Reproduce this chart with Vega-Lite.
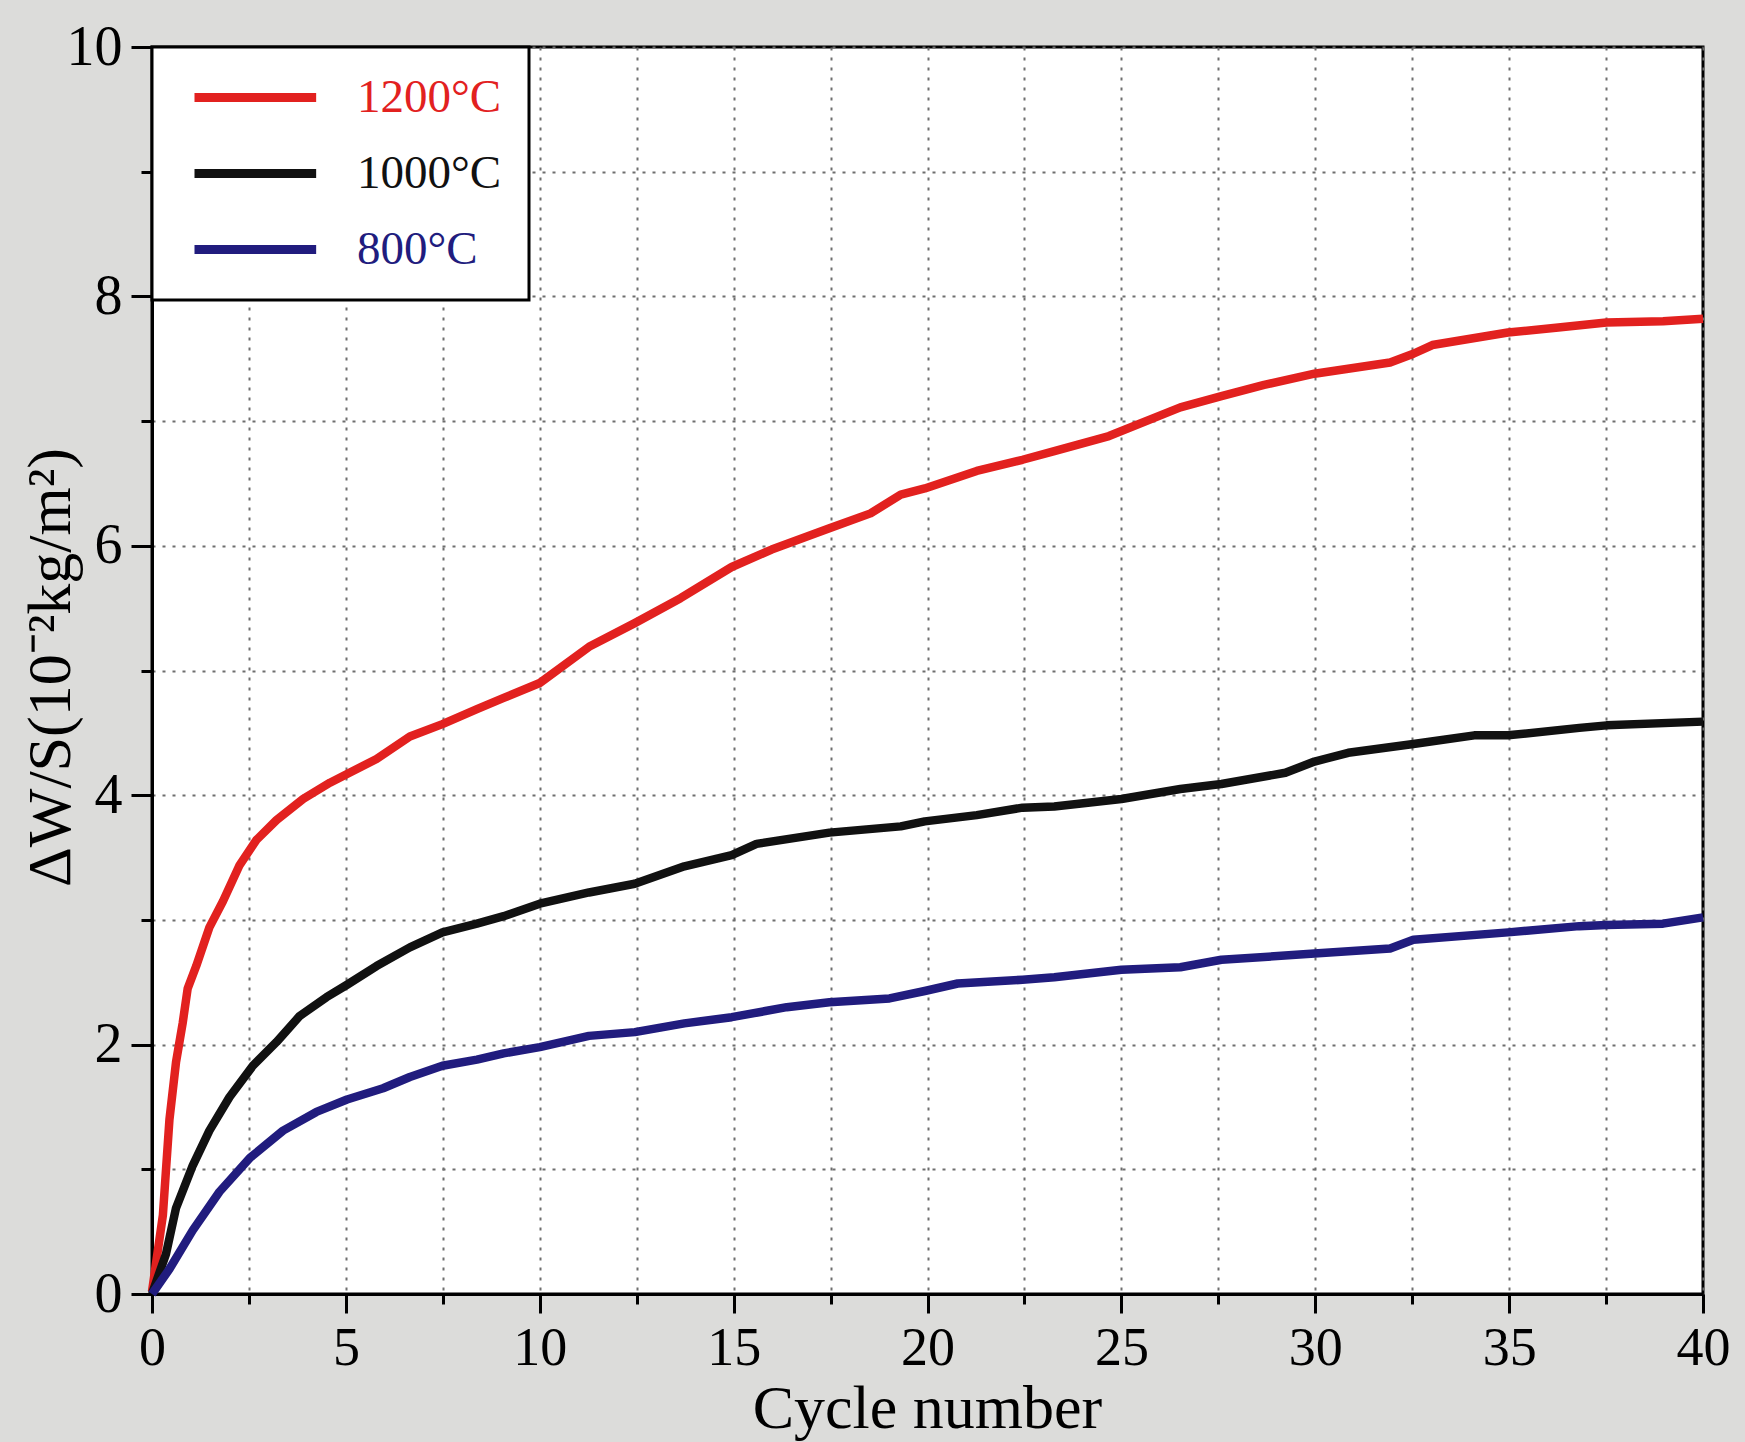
{
  "$schema": "https://vega.github.io/schema/vega-lite/v6.json",
  "width": 1551,
  "height": 1247,
  "autosize": {"type": "none"},
  "padding": {"left": 152, "top": 47, "right": 42, "bottom": 148},
  "background": "#dcdcda",
  "config": {
    "view": {"fill": "white", "stroke": "black", "strokeWidth": 3},
    "font": "Liberation Serif"
  },
  "data": {
    "values": [
      {"temp": "1200°C", "cycle": 0, "dws": 0.02},
      {"temp": "1200°C", "cycle": 0.28, "dws": 0.63},
      {"temp": "1200°C", "cycle": 0.45, "dws": 1.4},
      {"temp": "1200°C", "cycle": 0.62, "dws": 1.86},
      {"temp": "1200°C", "cycle": 0.79, "dws": 2.17},
      {"temp": "1200°C", "cycle": 0.92, "dws": 2.45},
      {"temp": "1200°C", "cycle": 1.14, "dws": 2.63},
      {"temp": "1200°C", "cycle": 1.48, "dws": 2.94},
      {"temp": "1200°C", "cycle": 1.83, "dws": 3.15},
      {"temp": "1200°C", "cycle": 2.26, "dws": 3.44},
      {"temp": "1200°C", "cycle": 2.69, "dws": 3.64},
      {"temp": "1200°C", "cycle": 3.21, "dws": 3.8},
      {"temp": "1200°C", "cycle": 3.9, "dws": 3.97},
      {"temp": "1200°C", "cycle": 4.59, "dws": 4.1},
      {"temp": "1200°C", "cycle": 5.03, "dws": 4.17},
      {"temp": "1200°C", "cycle": 5.79, "dws": 4.29},
      {"temp": "1200°C", "cycle": 6.65, "dws": 4.47},
      {"temp": "1200°C", "cycle": 7.49, "dws": 4.57},
      {"temp": "1200°C", "cycle": 8.38, "dws": 4.69},
      {"temp": "1200°C", "cycle": 9.07, "dws": 4.78},
      {"temp": "1200°C", "cycle": 10, "dws": 4.9},
      {"temp": "1200°C", "cycle": 11.27, "dws": 5.19},
      {"temp": "1200°C", "cycle": 12.45, "dws": 5.38},
      {"temp": "1200°C", "cycle": 13.63, "dws": 5.58},
      {"temp": "1200°C", "cycle": 14.95, "dws": 5.83},
      {"temp": "1200°C", "cycle": 15.98, "dws": 5.97},
      {"temp": "1200°C", "cycle": 17.47, "dws": 6.14},
      {"temp": "1200°C", "cycle": 18.53, "dws": 6.26},
      {"temp": "1200°C", "cycle": 19.31, "dws": 6.41},
      {"temp": "1200°C", "cycle": 19.93, "dws": 6.46},
      {"temp": "1200°C", "cycle": 21.27, "dws": 6.6},
      {"temp": "1200°C", "cycle": 22.45, "dws": 6.69},
      {"temp": "1200°C", "cycle": 23.27, "dws": 6.76},
      {"temp": "1200°C", "cycle": 24.68, "dws": 6.88},
      {"temp": "1200°C", "cycle": 26.52, "dws": 7.11},
      {"temp": "1200°C", "cycle": 27.58, "dws": 7.2},
      {"temp": "1200°C", "cycle": 28.68, "dws": 7.29},
      {"temp": "1200°C", "cycle": 29.98, "dws": 7.38},
      {"temp": "1200°C", "cycle": 31.93, "dws": 7.47},
      {"temp": "1200°C", "cycle": 32.53, "dws": 7.54},
      {"temp": "1200°C", "cycle": 33.02, "dws": 7.61},
      {"temp": "1200°C", "cycle": 34.97, "dws": 7.71},
      {"temp": "1200°C", "cycle": 36.27, "dws": 7.75},
      {"temp": "1200°C", "cycle": 37.51, "dws": 7.79},
      {"temp": "1200°C", "cycle": 38.97, "dws": 7.8},
      {"temp": "1200°C", "cycle": 40, "dws": 7.82},

      {"temp": "1000°C", "cycle": 0, "dws": 0},
      {"temp": "1000°C", "cycle": 0.36, "dws": 0.32},
      {"temp": "1000°C", "cycle": 0.62, "dws": 0.69},
      {"temp": "1000°C", "cycle": 1.05, "dws": 1.03},
      {"temp": "1000°C", "cycle": 1.48, "dws": 1.31},
      {"temp": "1000°C", "cycle": 2.0, "dws": 1.58},
      {"temp": "1000°C", "cycle": 2.6, "dws": 1.83},
      {"temp": "1000°C", "cycle": 3.21, "dws": 2.02},
      {"temp": "1000°C", "cycle": 3.81, "dws": 2.23},
      {"temp": "1000°C", "cycle": 4.5, "dws": 2.38},
      {"temp": "1000°C", "cycle": 5.03, "dws": 2.48},
      {"temp": "1000°C", "cycle": 5.79, "dws": 2.63},
      {"temp": "1000°C", "cycle": 6.65, "dws": 2.78},
      {"temp": "1000°C", "cycle": 7.49, "dws": 2.9},
      {"temp": "1000°C", "cycle": 8.38, "dws": 2.97},
      {"temp": "1000°C", "cycle": 9.07, "dws": 3.03},
      {"temp": "1000°C", "cycle": 10, "dws": 3.13},
      {"temp": "1000°C", "cycle": 11.27, "dws": 3.22},
      {"temp": "1000°C", "cycle": 12.45, "dws": 3.29},
      {"temp": "1000°C", "cycle": 13.73, "dws": 3.43},
      {"temp": "1000°C", "cycle": 14.95, "dws": 3.52},
      {"temp": "1000°C", "cycle": 15.59, "dws": 3.61},
      {"temp": "1000°C", "cycle": 17.47, "dws": 3.7},
      {"temp": "1000°C", "cycle": 19.31, "dws": 3.75},
      {"temp": "1000°C", "cycle": 19.93, "dws": 3.79},
      {"temp": "1000°C", "cycle": 21.27, "dws": 3.84},
      {"temp": "1000°C", "cycle": 22.45, "dws": 3.9},
      {"temp": "1000°C", "cycle": 23.27, "dws": 3.91},
      {"temp": "1000°C", "cycle": 25, "dws": 3.97},
      {"temp": "1000°C", "cycle": 26.52, "dws": 4.05},
      {"temp": "1000°C", "cycle": 27.58, "dws": 4.09},
      {"temp": "1000°C", "cycle": 29.23, "dws": 4.18},
      {"temp": "1000°C", "cycle": 29.98, "dws": 4.27},
      {"temp": "1000°C", "cycle": 30.85, "dws": 4.34},
      {"temp": "1000°C", "cycle": 32.53, "dws": 4.41},
      {"temp": "1000°C", "cycle": 34.1, "dws": 4.48},
      {"temp": "1000°C", "cycle": 34.97, "dws": 4.48},
      {"temp": "1000°C", "cycle": 36.81, "dws": 4.54},
      {"temp": "1000°C", "cycle": 37.51, "dws": 4.56},
      {"temp": "1000°C", "cycle": 40, "dws": 4.59},

      {"temp": "800°C", "cycle": 0, "dws": 0},
      {"temp": "800°C", "cycle": 0.45, "dws": 0.2},
      {"temp": "800°C", "cycle": 1.05, "dws": 0.51},
      {"temp": "800°C", "cycle": 1.74, "dws": 0.82},
      {"temp": "800°C", "cycle": 2.52, "dws": 1.09},
      {"temp": "800°C", "cycle": 3.38, "dws": 1.31},
      {"temp": "800°C", "cycle": 4.24, "dws": 1.46},
      {"temp": "800°C", "cycle": 5.03, "dws": 1.56},
      {"temp": "800°C", "cycle": 5.96, "dws": 1.65},
      {"temp": "800°C", "cycle": 6.65, "dws": 1.74},
      {"temp": "800°C", "cycle": 7.49, "dws": 1.83},
      {"temp": "800°C", "cycle": 8.38, "dws": 1.88},
      {"temp": "800°C", "cycle": 9.07, "dws": 1.93},
      {"temp": "800°C", "cycle": 10, "dws": 1.98},
      {"temp": "800°C", "cycle": 11.27, "dws": 2.07},
      {"temp": "800°C", "cycle": 12.45, "dws": 2.1},
      {"temp": "800°C", "cycle": 13.73, "dws": 2.17},
      {"temp": "800°C", "cycle": 14.95, "dws": 2.22},
      {"temp": "800°C", "cycle": 16.37, "dws": 2.3},
      {"temp": "800°C", "cycle": 17.47, "dws": 2.34},
      {"temp": "800°C", "cycle": 19.02, "dws": 2.37},
      {"temp": "800°C", "cycle": 19.93, "dws": 2.43},
      {"temp": "800°C", "cycle": 20.78, "dws": 2.49},
      {"temp": "800°C", "cycle": 22.45, "dws": 2.52},
      {"temp": "800°C", "cycle": 23.27, "dws": 2.54},
      {"temp": "800°C", "cycle": 25, "dws": 2.6},
      {"temp": "800°C", "cycle": 26.52, "dws": 2.62},
      {"temp": "800°C", "cycle": 27.58, "dws": 2.68},
      {"temp": "800°C", "cycle": 29.98, "dws": 2.73},
      {"temp": "800°C", "cycle": 31.93, "dws": 2.77},
      {"temp": "800°C", "cycle": 32.53, "dws": 2.84},
      {"temp": "800°C", "cycle": 34.97, "dws": 2.9},
      {"temp": "800°C", "cycle": 36.81, "dws": 2.95},
      {"temp": "800°C", "cycle": 37.51, "dws": 2.96},
      {"temp": "800°C", "cycle": 38.97, "dws": 2.97},
      {"temp": "800°C", "cycle": 40, "dws": 3.02}
    ]
  },
  "mark": {"type": "line", "strokeWidth": 8.5, "interpolate": "linear", "strokeJoin": "round"},
  "encoding": {
    "x": {
      "field": "cycle",
      "type": "quantitative",
      "scale": {"domain": [0, 40], "nice": false, "zero": false},
      "axis": {
        "values": [0, 2.5, 5, 7.5, 10, 12.5, 15, 17.5, 20, 22.5, 25, 27.5, 30, 32.5, 35, 37.5, 40],
        "labelExpr": "datum.value % 5 === 0 ? datum.label : ''",
        "labelFont": "Liberation Serif",
        "labelFontSize": 54,
        "labelColor": "black",
        "labelPadding": 8,
        "labelFlush": false,
        "labelOverlap": false,
        "tickSize": {"condition": {"test": "datum.value % 5 === 0", "value": 19}, "value": 10},
        "tickWidth": 3,
        "tickColor": "black",
        "domainColor": "black",
        "domainWidth": 3,
        "grid": true,
        "gridDash": [3, 7],
        "gridColor": "#6e6e6e",
        "gridWidth": 2,
        "title": "Cycle number",
        "titleFont": "Liberation Serif",
        "titleFontSize": 62,
        "titleFontWeight": "normal",
        "titleColor": "black",
        "titleX": 775,
        "titleY": 133,
        "titleBaseline": "alphabetic"
      }
    },
    "y": {
      "field": "dws",
      "type": "quantitative",
      "scale": {"domain": [0, 10], "nice": false, "zero": true},
      "axis": {
        "values": [0, 1, 2, 3, 4, 5, 6, 7, 8, 9, 10],
        "labelExpr": "datum.value % 2 === 0 ? datum.label : ''",
        "labelFont": "Liberation Serif",
        "labelFontSize": 56,
        "labelColor": "black",
        "labelPadding": 9,
        "labelFlush": false,
        "labelOverlap": false,
        "tickSize": {"condition": {"test": "datum.value % 2 === 0", "value": 21}, "value": 11},
        "tickWidth": 3,
        "tickColor": "black",
        "domainColor": "black",
        "domainWidth": 3,
        "grid": true,
        "gridDash": [3, 7],
        "gridColor": "#6e6e6e",
        "gridWidth": 2,
        "title": "ΔW/S(10⁻²kg/m²)",
        "titleFont": "Liberation Serif",
        "titleFontSize": 62,
        "titleFontWeight": "normal",
        "titleColor": "black",
        "titleAngle": -90,
        "titleX": -102,
        "titleY": 620,
        "titleAlign": "center",
        "titleBaseline": "middle"
      }
    },
    "color": {
      "field": "temp",
      "type": "nominal",
      "scale": {"domain": ["1200°C", "1000°C", "800°C"], "range": ["#e2211f", "#111111", "#211c7e"]},
      "legend": {
        "title": null,
        "orient": "none",
        "legendX": 0,
        "legendY": 0,
        "padding": 27,
        "fillColor": "white",
        "strokeColor": "black",
        "symbolType": "M0,0H40",
        "symbolSize": 37,
        "symbolStrokeWidth": 9,
        "symbolOffset": -8,
        "labelOffset": 139,
        "labelFont": "Liberation Serif",
        "labelFontSize": 47,
        "labelLimit": 400,
        "rowPadding": 28,
        "encode": {
          "labels": {"update": {"fill": {"scale": "color", "field": "value"}}},
          "legend": {"update": {"strokeWidth": {"value": 3}}}
        }
      }
    },
    "order": {"field": "cycle", "type": "quantitative"}
  }
}
